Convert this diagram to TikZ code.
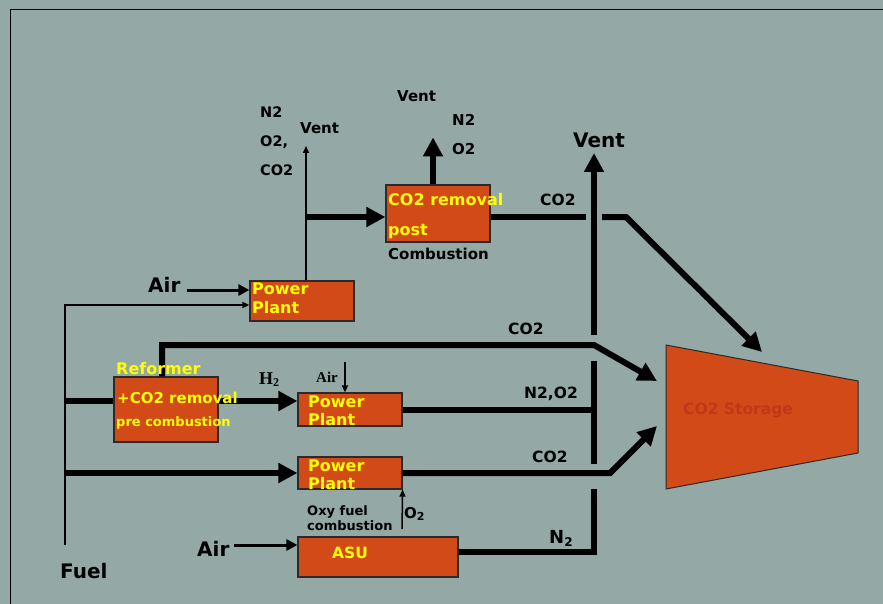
\documentclass[tikz,border=0pt]{standalone}
\usepackage{fontspec}
\setmainfont{DejaVu Sans}
\newfontfamily\serifface{Liberation Serif}
\usetikzlibrary{arrows.meta}
\definecolor{bg}{HTML}{94A8A5}
\definecolor{boxfill}{HTML}{D24A18}
\definecolor{ylw}{HTML}{FFFF00}
\definecolor{stortext}{HTML}{C4361A}
\definecolor{edgecol}{HTML}{2A2A2A}
\newcommand{\fs}[1]{\fontsize{#1}{#1}\selectfont}
\newcommand{\subtwo}[1]{\raisebox{-0.35ex}{\fs{#1}2}}
\begin{document}
\begin{tikzpicture}[x=1pt,y=-1pt,
  procbox/.style={draw=edgecol, line width=1.2pt, fill=boxfill, inner sep=0pt},
  ytext/.style={anchor=base west, inner sep=0pt, text=ylw, font=\bfseries\fs{16}},
  lbl/.style={anchor=base west, inner sep=0pt, font=\bfseries\fs{15.5}},
  thickline/.style={line width=6pt},
  thickarrow/.style={line width=6pt, -{Triangle[length=19pt,width=19pt]}},
  medarrow/.style={line width=3pt, -{Triangle[length=11pt,width=11pt]}},
  thinarrow/.style={line width=1.5pt, -{Triangle[length=7pt,width=6pt]}}]

\fill[bg] (0,0) rectangle (883,604);
\useasboundingbox (0,0) rectangle (883,604);
\draw[line width=1pt, black] (10,604) -- (10,10) -- (883,10);

% boxes
\node[procbox, minimum width=104pt, minimum height=40pt] (pp1) at (302,301) {};
\node[procbox, minimum width=104pt, minimum height=57pt] (post) at (438,213.5) {};
\node[procbox, minimum width=104pt, minimum height=65pt] (ref) at (166,409.5) {};
\node[procbox, minimum width=104pt, minimum height=33pt] (pp2) at (350,409.5) {};
\node[procbox, minimum width=104pt, minimum height=32pt] (pp3) at (350,473) {};
\node[procbox, minimum width=160pt, minimum height=40pt] (asu) at (378,557) {};

% storage
\coordinate (s1) at (666,345);
\coordinate (s2) at (858,381);
\coordinate (s3) at (858,453);
\coordinate (s4) at (666,489);
\filldraw[fill=boxfill, draw=edgecol, line width=1pt] (s1) -- (s2) -- (s3) -- (s4) -- cycle;

% coordinates
\coordinate (fuelEnd) at (65,545);
\coordinate (fuelCorner) at (65,305);
\coordinate (airAStart) at (187,290);
\coordinate (ventTip) at (306,146);
\coordinate (branchA) at (306,217);
\coordinate (co2Gap1) at (586,217);
\coordinate (co2Gap2) at (602,217);
\coordinate (co2Bend) at (626,217);
\coordinate (storTop) at (762,352);
\coordinate (ventLow) at (594,335);
\coordinate (ventHigh) at (594,153);
\coordinate (v2a) at (594,361);
\coordinate (v2b) at (594,464);
\coordinate (v3a) at (594,489);
\coordinate (v3b) at (594,552);
\coordinate (refTop) at (162,345);
\coordinate (refBend) at (594,345);
\coordinate (storMid1) at (657,381);
\coordinate (fuelRef) at (65,401);
\coordinate (airBStart) at (345,362);
\coordinate (n2o2End) at (594,409.5);
\coordinate (fuelPP3) at (65,473);
\coordinate (pp3Bend) at (610,473);
\coordinate (storMid2) at (657,426);
\coordinate (o2Start) at (402,529);
\coordinate (airCStart) at (234,545);

% connectors
\draw[thinarrow] (fuelEnd) -- (fuelCorner) -- (pp1.west |- fuelCorner);
\draw[medarrow] (airAStart) -- (pp1.west |- airAStart);
\draw[thinarrow] (pp1.north -| branchA) -- (ventTip);
\draw[thickarrow] (branchA) -- (post.west |- branchA);
\draw[thickarrow] ([xshift=-5pt]post.north) -- ++(0,-47);
\draw[thickline] (post.east |- branchA) -- (co2Gap1);
\draw[thickarrow] (co2Gap2) -- (co2Bend) -- (storTop);
\draw[thickarrow] (ventLow) -- (ventHigh);
\draw[thickline] (v2a) -- (v2b);
\draw[thickline] (v3a) -- (v3b) -- (asu.east |- v3b);
\draw[thickarrow] (ref.north -| refTop) -- (refTop) -- (refBend) -- (storMid1);
\draw[thickline] (fuelRef) -- (ref.west |- fuelRef);
\draw[thickarrow] (ref.east |- fuelRef) -- (pp2.west |- fuelRef);
\draw[thinarrow] (airBStart) -- (pp2.north -| airBStart);
\draw[thickline] (pp2.east) -- (n2o2End);
\draw[thickarrow] (fuelPP3) -- (pp3.west);
\draw[thickarrow] (pp3.east) -- (pp3Bend) -- (storMid2);
\draw[thinarrow] (o2Start) -- (pp3.south east);
\draw[medarrow] (airCStart) -- (asu.west |- airCStart);

% texts in boxes
\node[anchor=base west, inner sep=0pt, text=stortext, font=\bfseries\fs{15.5}] (storlbl) at (683,414) {CO2 Storage};
\node[ytext] (pp1a) at (252,294) {Power};
\node[ytext] (pp1b) at (252,313) {Plant};
\node[ytext] (posta) at (388,206) {CO2 removal};
\node[ytext] (postb) at (388,235) {post};
\node[lbl, font=\bfseries\fs{15}] (postc) at (388,259) {Combustion};
\node[ytext] (refa) at (116,374) {Reformer};
\node[ytext, font=\bfseries\fs{15}] (refb) at (117,403) {+CO2 removal};
\node[ytext, font=\bfseries\fs{13}] (refc) at (116,426) {pre combustion};
\node[ytext] (pp2a) at (308,407) {Power};
\node[ytext] (pp2b) at (308,425) {Plant};
\node[ytext] (pp3a) at (308,471) {Power};
\node[ytext] (pp3b) at (308,489) {Plant};
\node[ytext, font=\bfseries\fs{15.5}] (asua) at (332,558) {ASU};

% black labels
\node[lbl, font=\bfseries\fs{14.5}] (la) at (260,118) {N2};
\node[lbl, font=\bfseries\fs{14.5}] (lb) at (260,147) {O2,};
\node[lbl, font=\bfseries\fs{14.5}] (lc) at (260,176) {CO2};
\node[lbl, font=\bfseries\fs{15}] (ventA) at (300,134) {Vent};
\node[lbl, font=\bfseries\fs{15}] (ventB) at (397,102) {Vent};
\node[lbl, font=\bfseries\fs{15}] (ld) at (452,126) {N2};
\node[lbl, font=\bfseries\fs{15}] (le) at (452,155) {O2};
\node[lbl, font=\bfseries\fs{20}] (ventC) at (573,148) {Vent};
\node[lbl] (co2a) at (540,206) {CO2};
\node[lbl, font=\bfseries\fs{20}] (airA) at (148,292) {Air};
\node[lbl] (co2b) at (508,334) {CO2};
\node[lbl, font=\serifface\bfseries\fs{18}] (h2) at (259,384) {H\subtwo{12}};
\node[lbl, font=\serifface\bfseries\fs{15}] (airB) at (316,382) {Air};
\node[lbl] (n2o2) at (524,398) {N2,O2};
\node[lbl] (co2c) at (532,462) {CO2};
\node[lbl, font=\bfseries\fs{13}] (oxya) at (307,515) {Oxy fuel};
\node[lbl, font=\bfseries\fs{13}] (oxyb) at (307,530) {combustion};
\node[lbl, font=\bfseries\fs{15}] (o2) at (404,518) {O\subtwo{11}};
\node[lbl, font=\bfseries\fs{20}] (airC) at (197,556) {Air};
\node[lbl, font=\bfseries\fs{20}] (fuel) at (60,578) {Fuel};
\node[lbl, font=\bfseries\fs{18}] (n2b) at (549,543) {N\subtwo{12}};
\end{tikzpicture}
\end{document}
